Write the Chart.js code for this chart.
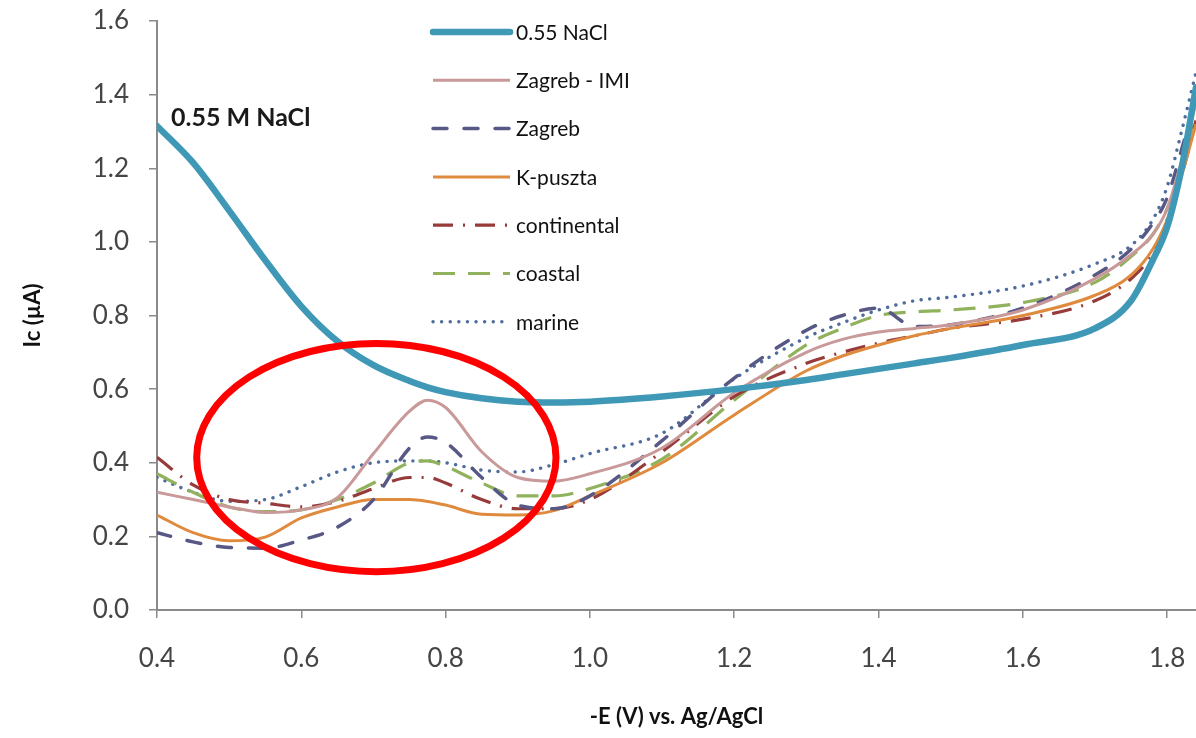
<!DOCTYPE html>
<html>
<head>
<meta charset="utf-8">
<script src="https://cdn.jsdelivr.net/npm/chart.js@4"></script>
<style>
html,body{margin:0;padding:0;background:#fff;}
#wrap{width:1196px;height:738px;}
</style>
</head>
<body>
<div id="wrap"><canvas id="c" width="1196" height="738"></canvas></div>
<script>
// ---- data ----
const potential = [0.40,0.45,0.50,0.55,0.60,0.65,0.70,0.75,0.775,0.80,0.85,0.90,0.95,1.00,1.10,1.20,1.30,1.35,1.40,1.45,1.50,1.60,1.70,1.75,1.78,1.80,1.82,1.84];
const nacl        = [1.315,1.215,1.085,0.95,0.825,0.73,0.665,0.622,0.605,0.592,0.575,0.566,0.564,0.566,0.58,0.60,0.625,0.64,0.655,0.67,0.685,0.72,0.765,0.84,0.95,1.04,1.20,1.42];
const zagrebIMI   = [0.32,0.30,0.28,0.265,0.272,0.305,0.425,0.54,0.57,0.55,0.43,0.36,0.35,0.37,0.44,0.59,0.70,0.735,0.755,0.765,0.775,0.815,0.90,0.965,1.02,1.09,1.22,1.38];
const zagreb      = [0.21,0.185,0.17,0.168,0.19,0.225,0.30,0.44,0.47,0.455,0.36,0.285,0.275,0.31,0.46,0.63,0.76,0.80,0.82,0.77,0.775,0.82,0.91,0.98,1.05,1.12,1.25,1.40];
const kpuszta     = [0.258,0.21,0.188,0.198,0.25,0.28,0.30,0.30,0.295,0.285,0.26,0.258,0.27,0.31,0.40,0.53,0.65,0.69,0.72,0.745,0.765,0.80,0.855,0.91,0.98,1.06,1.18,1.32];
const continental = [0.415,0.34,0.30,0.29,0.28,0.295,0.33,0.36,0.36,0.345,0.30,0.275,0.275,0.30,0.43,0.58,0.67,0.70,0.725,0.745,0.765,0.79,0.84,0.90,0.97,1.06,1.18,1.33];
const coastal     = [0.37,0.32,0.28,0.267,0.272,0.30,0.345,0.40,0.405,0.39,0.345,0.31,0.31,0.33,0.41,0.57,0.72,0.765,0.80,0.81,0.815,0.835,0.89,0.96,1.02,1.09,1.20,1.35];
const marine      = [0.36,0.32,0.295,0.30,0.335,0.375,0.40,0.405,0.405,0.40,0.38,0.375,0.395,0.425,0.48,0.628,0.74,0.78,0.815,0.84,0.85,0.88,0.94,0.99,1.06,1.15,1.30,1.46];
const seriesNames = ['0.55 NaCl','Zagreb - IMI','Zagreb','K-puszta','continental','coastal','marine'];
const xTickValues = [0.4,0.6,0.8,1.0,1.2,1.4,1.6,1.8];
const yTickValues = [0.0,0.2,0.4,0.6,0.8,1.0,1.2,1.4,1.6];
const noteText = '0.55 M NaCl';
// highlighted region (data units): centre x, centre y, half-width, half-height
const highlight = {cx:0.704, cy:0.414, rx:0.249, ry:0.310};

// ---- styles ----
const styles = [
  {color:'#3f99b6', width:6.5, dash:[], cap:'round'},
  {color:'#c9999a', width:3,   dash:[], cap:'butt'},
  {color:'#585886', width:3.5, dash:[14,17], cap:'round'},
  {color:'#e08a3e', width:3,   dash:[], cap:'butt'},
  {color:'#973a3a', width:3.2, dash:[20,10,2,10], cap:'butt'},
  {color:'#91b25c', width:3.2, dash:[22,13], cap:'butt'},
  {color:'#4e6c9c', width:3.4, dash:[0.1,8.5], cap:'round'}
];
const seriesValues = [nacl,zagrebIMI,zagreb,kpuszta,continental,coastal,marine];

const datasets = seriesValues.map((vals,i)=>({
  label: seriesNames[i],
  data: potential.map((x,j)=>({x:x,y:vals[j]})),
  borderColor: styles[i].color,
  backgroundColor: styles[i].color,
  borderWidth: styles[i].width,
  borderDash: styles[i].dash,
  borderCapStyle: styles[i].cap,
  pointRadius: 0,
  fill: false,
  cubicInterpolationMode: 'monotone',
  order: i
}));

const FONT = 'Lato';

const overlayPlugin = {
  id:'overlay',
  afterDatasetsDraw(chart){
    const ctx = chart.ctx, xs = chart.scales.x, ys = chart.scales.y, ca = chart.chartArea;
    ctx.save();
    // red ellipse
    const cx = xs.getPixelForValue(highlight.cx), cy = ys.getPixelForValue(highlight.cy);
    const rx = Math.abs(xs.getPixelForValue(highlight.cx+highlight.rx)-cx);
    const ry = Math.abs(ys.getPixelForValue(highlight.cy+highlight.ry)-cy);
    ctx.beginPath();
    ctx.ellipse(cx,cy,rx,ry,0,0,Math.PI*2);
    ctx.strokeStyle = '#ff0000';
    ctx.lineWidth = 7;
    ctx.setLineDash([]);
    ctx.stroke();
    // note text
    ctx.fillStyle = '#1a1a1a';
    ctx.font = 'bold 25px '+FONT;
    ctx.textBaseline = 'middle';
    ctx.textAlign = 'left';
    ctx.fillText(noteText, ca.left+14, ca.top+97);
    // legend
    const lx0 = ca.left+276, lx1 = ca.left+353, tx = ca.left+359;
    chart.data.datasets.forEach((ds,i)=>{
      const y = ca.top + 11 + i*48.3;
      ctx.beginPath();
      ctx.moveTo(lx0,y); ctx.lineTo(lx1,y);
      ctx.strokeStyle = ds.borderColor;
      ctx.lineWidth = ds.borderWidth;
      ctx.lineCap = ds.borderCapStyle;
      ctx.setLineDash(ds.borderDash);
      ctx.stroke();
      ctx.setLineDash([]);
      ctx.fillStyle = '#111';
      ctx.font = '21px '+FONT;
      ctx.fillText(ds.label, tx, y+1);
    });
    ctx.restore();
  }
};

new Chart(document.getElementById('c'), {
  type:'line',
  data:{datasets:datasets},
  options:{
    responsive:false,
    animation:false,
    devicePixelRatio:1,
    layout:{padding:{top:21,right:0,left:0,bottom:0}},
    plugins:{legend:{display:false},tooltip:{enabled:false}},
    scales:{
      x:{
        type:'linear', min:0.4, max:1.84,
        border:{color:'#8a8a8a', width:2},
        grid:{drawOnChartArea:false, drawTicks:true, tickLength:8, color:'#8a8a8a', lineWidth:1.5},
        afterBuildTicks:(s)=>{ s.ticks = xTickValues.map(v=>({value:v})); },
        ticks:{font:{family:FONT,size:26}, color:'#454545', padding:25, maxRotation:0,
               callback:(v)=>Number(v).toFixed(1)},
        title:{display:true, text:'-E (V) vs. Ag/AgCl', font:{family:FONT,size:22,weight:'bold'}, color:'#111', padding:{top:0,bottom:8}},
        afterFit:(s)=>{ s.height = 128; s.paddingLeft = 0; s.paddingRight = 0; }
      },
      y:{
        min:0, max:1.6,
        border:{color:'#8a8a8a', width:2},
        grid:{drawOnChartArea:false, drawTicks:true, tickLength:8, color:'#8a8a8a', lineWidth:1.5},
        afterBuildTicks:(s)=>{ s.ticks = yTickValues.map(v=>({value:v})); },
        ticks:{font:{family:FONT,size:26}, color:'#454545', padding:20,
               callback:(v)=>Number(v).toFixed(1)},
        title:{display:true, text:'Ic (µA)', font:{family:FONT,size:22,weight:'bold'}, color:'#111', padding:{top:20,bottom:0}},
        afterFit:(s)=>{ s.width = 157; s.paddingTop = 0; s.paddingBottom = 0; }
      }
    }
  },
  plugins:[overlayPlugin]
});
</script>
</body>
</html>
